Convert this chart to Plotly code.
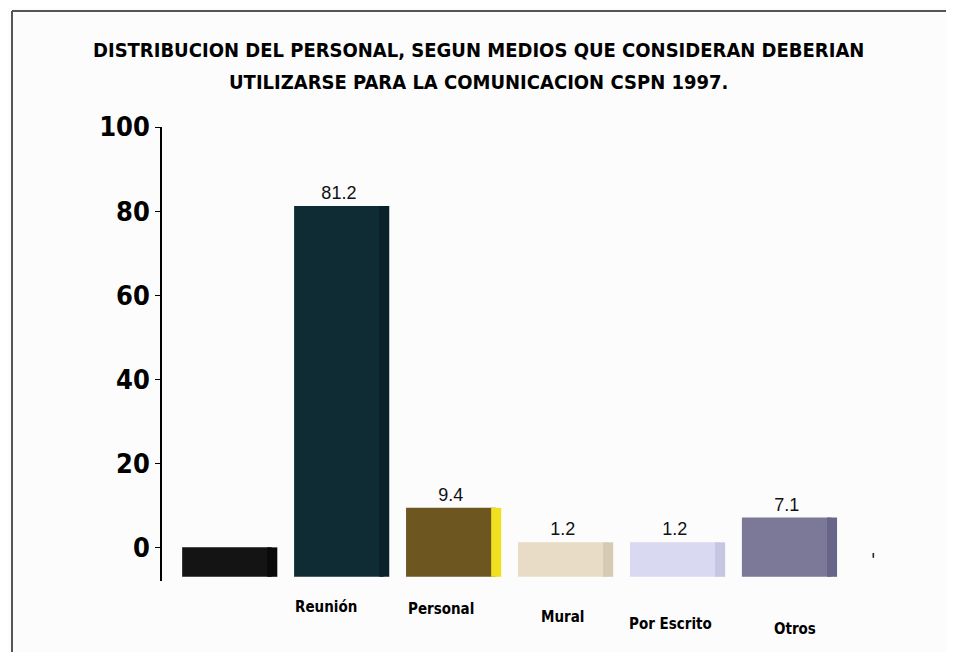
import plotly.graph_objects as go

categories = ["", "Reunión", "Personal", "Mural", "Por Escrito", "Otros"]
values = [0.0, 81.2, 9.4, 1.2, 1.2, 7.1]
value_labels = ["", "81.2", "9.4", "1.2", "1.2", "7.1"]
bar_colors = ["#141414", "#0f2c35", "#6e5620", "#e8dcc6", "#d9d9f2", "#7b7898"]
side_colors = ["#0a0a0a", "#0a2129", "#f0e020", "#d6cab4", "#c6c6e4", "#67658a"]
label_yshift = [0, 0, -2, -10, -17, -22]
label_xshift = [0, -13, -10, 0, -4, 8]

title_lines = ["DISTRIBUCION DEL PERSONAL, SEGUN MEDIOS QUE CONSIDERAN DEBERIAN",
               "UTILIZARSE PARA LA COMUNICACION CSPN 1997."]

FONT = "DejaVu Sans Condensed, Liberation Sans Narrow, Arial Narrow, Arial"

idx = list(range(len(categories)))
base = -7

W, H = 946, 644
L, T, PW, PH = 154, 119, 740, 454
R, B = W - L - PW, H - T - PH

fig = go.Figure()
fig.add_trace(go.Bar(
    x=idx, y=[v - base for v in values], base=base,
    width=0.8, marker=dict(color=bar_colors, line=dict(width=0)),
    text=value_labels, textposition="outside", cliponaxis=False,
    textfont=dict(family="Liberation Sans, Arial", size=18, color="#111"),
    hoverinfo="skip", showlegend=False,
))
fig.add_trace(go.Bar(
    x=idx, y=[v - base for v in values], base=base,
    width=0.09, offset=0.36, marker=dict(color=side_colors, line=dict(width=0)),
    hoverinfo="skip", showlegend=False,
))

for i, name in enumerate(categories):
    if name:
        fig.add_annotation(x=i, y=0, xref="x", yref="paper", text="<b>" + name + "</b>",
                           showarrow=False, yanchor="top",
                           yshift=-15 + label_yshift[i], xshift=label_xshift[i],
                           font=dict(family=FONT, size=15, color="#000"))
fig.add_annotation(x=5.77, y=-3, xref="x", yref="y", text="'", showarrow=False,
                   font=dict(size=18, color="#000"))

for line, ypx in zip(title_lines, [42, 74]):
    fig.add_annotation(x=0.5, y=1 + (T - ypx) / PH, xref="paper", yref="paper",
                       text="<b>" + line + "</b>", showarrow=False,
                       xanchor="center", yanchor="middle",
                       xshift=(478 - 8) - (L + PW / 2),
                       font=dict(family=FONT, size=20, color="#000"))

fig.update_layout(
    width=W, height=H,
    margin=dict(l=L, r=R, t=T, b=B),
    paper_bgcolor="#fcfcfc", plot_bgcolor="rgba(0,0,0,0)",
    barmode="overlay",
    xaxis=dict(range=[-0.58, 6.03], showticklabels=False, showgrid=False,
               zeroline=False, showline=False, ticks=""),
    yaxis=dict(range=[-8, 100], tickvals=[0, 20, 40, 60, 80, 100],
               showgrid=False, zeroline=False, showline=True, linecolor="#000",
               linewidth=1.5, ticks="outside", ticklen=5, tickcolor="#000",
               tickfont=dict(family=FONT, size=27, color="#000", weight="bold")),
    shapes=[
        dict(type="line", xref="paper", yref="paper",
             x0=-(L - 4) / PW, x1=1.5, y0=1 + (T - 3) / PH, y1=1 + (T - 3) / PH,
             line=dict(color="#555", width=2)),
        dict(type="line", xref="paper", yref="paper",
             x0=-(L - 4) / PW, x1=-(L - 4) / PW, y0=-0.5, y1=1 + (T - 3) / PH,
             line=dict(color="#555", width=2)),
    ],
    font=dict(family=FONT),
)

fig.write_html("out.html")
